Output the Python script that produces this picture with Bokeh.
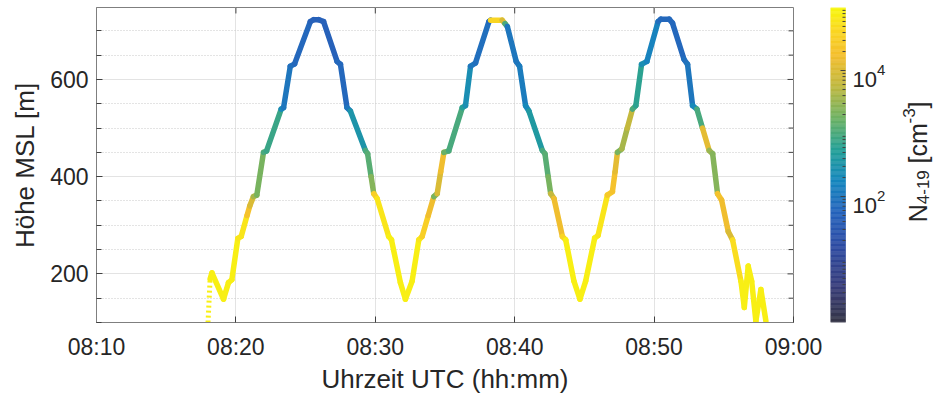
import math
from bokeh.plotting import figure
from bokeh.layouts import row
from bokeh.models import ColumnDataSource, FixedTicker, Range1d
from bokeh.core.properties import value
from bokeh.transform import log_cmap
from bokeh.embed import file_html
from bokeh.resources import INLINE

# ---------------- data ----------------
# time in minutes after 08:00 UTC
time_min = [18.00, 18.15, 18.28, 19.11, 19.47, 19.71, 20.14, 20.38, 20.80, 21.00,
            21.26, 21.50, 21.98, 22.20, 23.25, 23.42, 23.90, 24.21, 25.34, 25.58,
            25.93, 26.29, 27.26, 27.50, 27.97, 28.21, 29.29, 29.45, 29.70, 29.89,
            30.13, 30.96, 31.16, 31.80, 32.16, 32.64, 33.12, 33.36, 33.80, 34.20,
            34.44, 34.69, 34.92, 35.27, 36.24, 36.47, 36.83, 37.19, 38.15, 38.27,
            39.10, 39.30, 39.47, 40.11, 40.35, 40.78, 41.02, 41.98, 42.17, 42.40,
            42.58, 42.82, 43.42, 43.66, 44.25, 44.68, 45.09, 45.74, 45.98, 46.65,
            47.01, 47.20, 47.37, 47.68, 48.08, 48.45, 48.69, 49.10, 49.48, 50.29,
            50.48, 51.08, 51.32, 52.15, 52.40, 52.76, 53.07, 53.47, 53.95, 54.20,
            54.55, 54.84, 55.32, 55.63, 56.23, 56.47, 56.75, 57.00, 57.30, 57.66,
            58.02]
# altitude, m MSL
alt_m = [100, 190, 202, 148, 182, 188, 273, 277, 320, 340,
         359, 362, 450, 453, 539, 542, 627, 632, 719, 723,
         723, 719, 637, 631, 542, 535, 454, 447, 400, 365,
         355, 277, 270, 182, 148, 185, 270, 277, 320, 359,
         365, 410, 450, 453, 542, 546, 627, 634, 719, 722,
         722, 715, 709, 637, 627, 546, 535, 454, 447, 400,
         365, 355, 277, 270, 185, 148, 185, 274, 279, 362,
         369, 410, 450, 457, 500, 539, 546, 631, 637, 719,
         724, 724, 716, 641, 631, 546, 539, 500, 454, 447,
         365, 352, 287, 270, 185, 131, 216, 185, 103, 168,
         103]
# particle number concentration N_4-19, cm^-3
n_4_19 = [80000, 80000, 80000, 80000, 80000, 80000, 63000, 63000, 20000, 10000,
          4000, 2000, 1000, 800, 200, 100, 80, 63, 50, 50,
          50, 50, 63, 63, 100, 320, 1000, 1250, 2500, 32000,
          63000, 80000, 80000, 80000, 80000, 80000, 63000, 32000, 16000, 2000,
          10000, 16000, 1600, 1000, 500, 250, 100, 80, 63, 40000,
          10000, 1000, 100, 100, 125, 200, 400, 1000, 1250, 2000,
          6300, 16000, 40000, 80000, 80000, 80000, 80000, 80000, 63000, 25000,
          20000, 12500, 2000, 4000, 6300, 1000, 630, 250, 160, 80,
          63, 63, 63, 80, 100, 200, 1000, 12500, 3200, 2500,
          20000, 16000, 10000, 50000, 80000, 80000, 80000, 80000, 80000, 80000,
          80000]

x_tick_values = [10, 20, 30, 40, 50, 60]
x_tick_labels = ["08:10", "08:20", "08:30", "08:40", "08:50", "09:00"]
y_major_ticks = [200, 400, 600]
y_minor_ticks = [100, 150, 200, 250, 300, 350, 400, 450, 500, 550, 600, 650, 700, 750]
cbar_low, cbar_high = 1, 1e5
cbar_ticks = [100, 10000]
cbar_tick_labels = [("10", "2"), ("10", "4")]

# ---------------- colormap (parula-like) ----------------
anchors = [(0.00, (55, 55, 72)), (0.12, (56, 62, 125)), (0.25, (46, 78, 165)),
           (0.35, (38, 100, 188)), (0.45, (22, 135, 190)), (0.55, (36, 160, 150)),
           (0.65, (110, 178, 100)), (0.75, (190, 184, 64)), (0.85, (244, 190, 46)),
           (0.93, (250, 216, 34)), (1.00, (248, 246, 16))]
palette = []
for i in range(256):
    t = i / 255
    for (t0, c0), (t1, c1) in zip(anchors[:-1], anchors[1:]):
        if t0 <= t <= t1:
            f = (t - t0) / (t1 - t0)
            rgb = [round(a + (b - a) * f) for a, b in zip(c0, c1)]
            palette.append("#%02x%02x%02x" % tuple(rgb))
            break

# ---------------- layout constants (screen px) ----------------
H = 396
FRAME_L, FRAME_R, FRAME_T, FRAME_B = 96, 793, 7, 324
W1 = 830
W2 = 106
FONT = "Liberation Sans"
TXT = "#262626"
AXC = "#7f7f7f"
TICKC = "#404040"
X0, X1, Y0, Y1 = 10, 60, 100, 748

p = figure(width=W1, height=H, output_backend="svg", toolbar_location=None,
           x_range=Range1d(X0, X1), y_range=Range1d(Y0, Y1),
           min_border_left=FRAME_L, min_border_right=W1 - FRAME_R,
           min_border_top=FRAME_T, min_border_bottom=H - FRAME_B)
p.outline_line_color = AXC
p.background_fill_color = "white"
p.border_fill_color = "white"

# grids
xt = FixedTicker(ticks=x_tick_values)
yt = FixedTicker(ticks=y_major_ticks, minor_ticks=y_minor_ticks)
p.xgrid.ticker = xt
p.xgrid.grid_line_color = "#e3e3e3"
p.ygrid.ticker = yt
p.ygrid.grid_line_color = "#e3e3e3"
p.ygrid.minor_grid_line_color = "#c8c8c8"
p.ygrid.minor_grid_line_dash = "1 2"

# segments between consecutive samples
seg = ColumnDataSource(dict(x0=time_min[1:-1], y0=alt_m[1:-1], x1=time_min[2:],
                            y1=alt_m[2:], n=n_4_19[1:-1]))
first = ColumnDataSource(dict(x0=time_min[:1], y0=alt_m[:1], x1=time_min[1:2],
                              y1=alt_m[1:2], n=n_4_19[:1]))
cmap = log_cmap("n", palette, cbar_low, cbar_high)
p.segment("x0", "y0", "x1", "y1", source=first, line_color=cmap, line_width=5,
          line_dash="2 3")
p.segment("x0", "y0", "x1", "y1", source=seg, line_color=cmap, line_width=5.5,
          line_cap="round")

# axes
overrides = {v: s for v, s in zip(x_tick_values, x_tick_labels)}
for ax in (p.xaxis[0], p.yaxis[0]):
    ax.axis_line_color = AXC
    ax.major_tick_line_color = TICKC
    ax.major_tick_in = 6
    ax.major_tick_out = 0
    ax.major_label_text_font = FONT
    ax.major_label_text_font_size = "23px"
    ax.major_label_text_color = TXT
    ax.axis_label_text_font = FONT
    ax.axis_label_text_font_size = "26px"
    ax.axis_label_text_font_style = "normal"
    ax.axis_label_text_color = TXT

p.xaxis.ticker = xt
p.xaxis.major_label_overrides = overrides
p.xaxis.minor_tick_line_color = None
p.xaxis.major_label_standoff = 11
p.xaxis.axis_label_standoff = 1
p.xaxis.axis_label = "Uhrzeit UTC (hh:mm)"

p.yaxis.ticker = yt
p.yaxis.minor_tick_in = 5
p.yaxis.minor_tick_out = 0
p.yaxis.minor_tick_line_color = TICKC
p.yaxis.major_label_standoff = 8
p.yaxis.axis_label_standoff = 7
p.yaxis.axis_label = "Höhe MSL [m]"

# inward tick marks on the top and right edges of the box (MATLAB "box on")
dx_px = (X1 - X0) / (FRAME_R - FRAME_L)
dy_px = (Y1 - Y0) / (FRAME_B - FRAME_T)
top_x = x_tick_values[1:-1]
p.segment(x0=top_x, x1=top_x, y0=[Y1] * len(top_x), y1=[Y1 - 6 * dy_px] * len(top_x),
          line_color=TICKC, line_width=1)
r_min = [v for v in y_minor_ticks if v not in y_major_ticks and Y0 < v < Y1]
p.segment(x0=[X1] * len(r_min), x1=[X1 - 5 * dx_px] * len(r_min), y0=r_min, y1=r_min,
          line_color=TICKC, line_width=1)
p.segment(x0=[X1] * len(y_major_ticks), x1=[X1 - 6 * dx_px] * len(y_major_ticks),
          y0=y_major_ticks, y1=y_major_ticks, line_color=TICKC, line_width=1)

# ---------------- colour bar as its own small figure ----------------
e_lo, e_hi = math.log10(cbar_low), math.log10(cbar_high)
FH = FRAME_B - FRAME_T
px_per_e = FH / (e_hi - e_lo)

q = figure(width=W2, height=H, output_backend="svg", toolbar_location=None,
           x_range=Range1d(W1, W1 + W2), y_range=Range1d(e_lo, e_hi),
           x_axis_type=None, y_axis_type=None,
           min_border_left=0, min_border_right=0, min_border_top=FRAME_T,
           min_border_bottom=H - FRAME_B)
q.outline_line_color = None
q.grid.visible = False
q.background_fill_color = "white"
q.border_fill_color = "white"

BAR_L, BAR_R = 830, 845
n_col = len(palette)
edges = [e_lo + (e_hi - e_lo) * i / n_col for i in range(n_col + 1)]
q.quad(left=BAR_L, right=BAR_R, bottom=edges[:-1], top=edges[1:], fill_color=palette,
       line_color=palette, line_width=0.5)

# tick marks on the right edge of the bar
minor_e = [math.log10(m * 10 ** k) for k in range(int(e_lo), int(e_hi)) for m in range(2, 10)]
major_e = [math.log10(v) for v in cbar_ticks]
q.segment(x0=[BAR_R - 3] * len(minor_e), x1=[BAR_R] * len(minor_e), y0=minor_e, y1=minor_e,
          line_color=TICKC, line_width=1)
q.segment(x0=[BAR_R - 5] * len(major_e), x1=[BAR_R] * len(major_e), y0=major_e, y1=major_e,
          line_color=TICKC, line_width=1)

# tick labels 10^2, 10^4
LBL_X = 852
base_w = 0.556 * 2 * 22
q.text(x=[LBL_X] * len(major_e), y=[e - 9 / px_per_e for e in major_e],
       text=[b for b, s in cbar_tick_labels], text_font=value(FONT), text_font_size="22px",
       text_color=TXT, text_align="left", text_baseline="alphabetic")
q.text(x=[LBL_X + base_w] * len(major_e), y=[e + 1 / px_per_e for e in major_e],
       text=[s for b, s in cbar_tick_labels], text_font=value(FONT), text_font_size="15px",
       text_color=TXT, text_align="left", text_baseline="alphabetic")

# rotated title N_{4-19} [cm^{-3}]
CW = {"N": .722, "4": .556, "-": .333, "1": .556, "9": .556, " ": .278, "[": .278,
      "c": .5, "m": .833, "3": .556, "]": .278}
BIG, SMALL = 25, 17
base_x, sy = 917, 223
# (text, font size, baseline shift in px, gap before in px)
parts = [("N", BIG, 0, 0), ("4-19", SMALL, 5, 0), ("[cm", BIG, 0, 0.278 * BIG),
         ("-3", SMALL, -9, 0), ("]", BIG, 0, 0)]
for txt, sz, dx, gap in parts:
    sy -= gap
    q.text(x=[base_x + dx], y=[e_lo + (FRAME_B - sy) / px_per_e], text=[txt],
           text_font=value(FONT), text_font_size=f"{sz}px", text_color=TXT,
           text_align="left", text_baseline="alphabetic", angle=math.pi / 2)
    sy -= sum(CW[c] for c in txt) * sz

layout = row(p, q)
open("out.html", "w").write(file_html(layout, INLINE))
